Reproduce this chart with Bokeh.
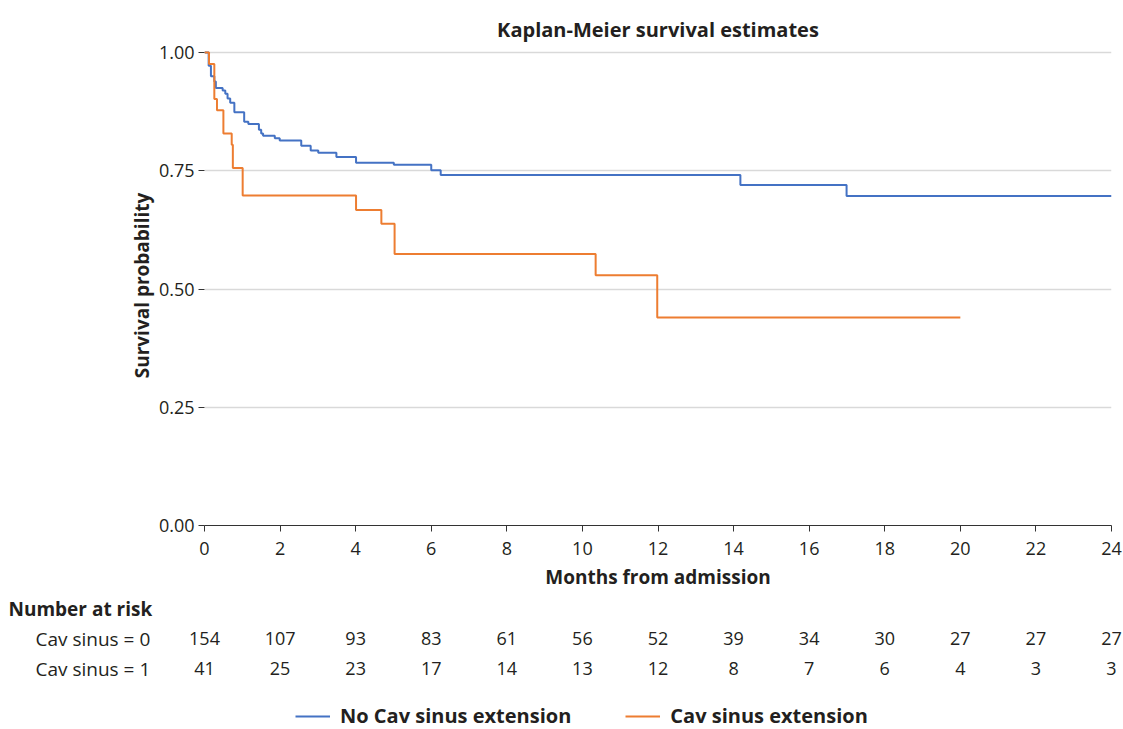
from bokeh.plotting import figure
from bokeh.models import (Range1d, FixedTicker, NumeralTickFormatter, ColumnDataSource,
                          Legend, LegendItem, Title)
from bokeh.layouts import column
from bokeh.core.properties import value
from bokeh.embed import file_html
from bokeh.resources import INLINE

# ---- data ----
months_no = [0, 0.11, 0.17, 0.26, 0.30, 0.48, 0.55, 0.61, 0.68, 0.79, 1.05, 1.16, 1.44, 1.50,
             1.55, 1.86, 1.99, 2.56, 2.81, 3.01, 3.49, 4.01, 5.01, 6.00, 6.25, 14.18, 16.99, 24.0]
surv_no = [1.0, 0.972, 0.950, 0.939, 0.925, 0.920, 0.913, 0.903, 0.894, 0.874, 0.854, 0.849,
           0.837, 0.829, 0.824, 0.819, 0.814, 0.803, 0.793, 0.788, 0.779, 0.767, 0.763, 0.751,
           0.741, 0.720, 0.697, 0.697]
months_cav = [0, 0.12, 0.26, 0.33, 0.50, 0.72, 0.75, 1.01, 4.01, 4.68, 5.03, 10.35, 11.98, 20.0]
surv_cav = [1.0, 0.976, 0.902, 0.878, 0.829, 0.805, 0.756, 0.698, 0.667, 0.638, 0.574, 0.529,
            0.440, 0.440]
risk_months = [0, 2, 4, 6, 8, 10, 12, 14, 16, 18, 20, 22, 24]
risk_no = [154, 107, 93, 83, 61, 56, 52, 39, 34, 30, 27, 27, 27]
risk_cav = [41, 25, 23, 17, 14, 13, 12, 8, 7, 6, 4, 3, 3]
y_ticks = [0, 0.25, 0.5, 0.75, 1.0]
series_names = ["No Cav sinus extension", "Cav sinus extension"]
row_names = ["Cav sinus = 0", "Cav sinus = 1"]
table_title = "Number at risk"

FONT = "Open Sans"
TXT = "#231f20"
BLUE = "#4472c4"
ORANGE = "#ed7d31"
REG = "18px"
BOLD = "19px"

W = 1123
LEFT, RIGHT = 204, 12
H1 = 594
H2 = 729 - H1

# ---------------- main plot ----------------
p = figure(width=W, height=H1, output_backend="svg", toolbar_location=None,
           x_range=Range1d(0, 24), y_range=Range1d(0, 1.015),
           min_border_left=LEFT, min_border_right=RIGHT, min_border_top=45,
           min_border_bottom=H1 - 525)
p.frame_align = False
p.outline_line_color = None

p.title = Title(text="Kaplan-Meier survival estimates", align="center",
                text_font=FONT, text_font_size="20px", text_font_style="bold",
                text_color=TXT, standoff=5)

p.xaxis.ticker = FixedTicker(ticks=risk_months)
p.yaxis.ticker = FixedTicker(ticks=y_ticks)
p.yaxis.formatter = NumeralTickFormatter(format="0.00")
for ax in (p.xaxis[0], p.yaxis[0]):
    ax.major_label_text_font = FONT
    ax.major_label_text_font_size = REG
    ax.major_label_text_color = TXT
    ax.axis_label_text_font = FONT
    ax.axis_label_text_font_size = BOLD
    ax.axis_label_text_font_style = "bold"
    ax.axis_label_text_color = TXT
    ax.minor_tick_line_color = None
    ax.major_tick_in = 0
    ax.major_tick_out = 6
    ax.axis_line_color = "#333333"
    ax.major_tick_line_color = "#333333"
    ax.axis_line_width = 1.2
p.xaxis.axis_label = "Months from admission"
p.yaxis.axis_label = "Survival probability"
p.xaxis.major_label_standoff = 10
p.xaxis.axis_label_standoff = 6
p.yaxis.major_label_standoff = 4
p.yaxis.axis_label_standoff = 1
p.yaxis.axis_line_color = None

p.xgrid.grid_line_color = None
p.ygrid.grid_line_color = "#d9d9d9"
p.ygrid.grid_line_width = 1.5

p.step(months_no, surv_no, mode="after", line_color=BLUE, line_width=2)
p.step(months_cav, surv_cav, mode="after", line_color=ORANGE, line_width=2)

# ---------------- risk table + legend ----------------
ppu = (W - LEFT - RIGHT) / 24.0
x0 = -LEFT / ppu
x1 = 24 + RIGHT / ppu
t = figure(width=W, height=H2, output_backend="svg", toolbar_location=None,
           x_range=Range1d(x0, x1), y_range=Range1d(0, H2),
           x_axis_location=None, y_axis_location=None,
           min_border=0, min_border_left=0, min_border_right=0,
           min_border_top=0, min_border_bottom=0)
t.frame_align = False
t.outline_line_color = None
t.xgrid.visible = False
t.ygrid.visible = False

top_page = H1
t.text(x=[x0 + 8 / ppu], y=[H2 - (608 - top_page)], text=[table_title], text_font=value(FONT),
       text_font_size=value(BOLD), text_font_style="bold", text_color=TXT,
       text_baseline="middle", text_align="left")
for i, (nm, vals) in enumerate(zip(row_names, [risk_no, risk_cav])):
    yy = H2 - (638 - top_page) - 30 * i
    t.text(x=[x0 + 35 / ppu], y=[yy], text=[nm], text_font=value(FONT),
           text_font_size=value(BOLD), text_color=TXT, text_baseline="middle",
           text_align="left")
    src = ColumnDataSource(dict(x=risk_months, y=[yy] * len(vals), s=[str(v) for v in vals]))
    t.text(x="x", y="y", text="s", source=src, text_font=value(FONT),
           text_font_size=value(REG), text_color=TXT, text_baseline="middle",
           text_align="center")

r_no = t.line([x0 - 10, x0 - 9], [-50, -50], line_color=BLUE, line_width=2)
r_cav = t.line([x0 - 10, x0 - 9], [-50, -50], line_color=ORANGE, line_width=2)
legend = Legend(items=[LegendItem(label=series_names[0], renderers=[r_no]),
                       LegendItem(label=series_names[1], renderers=[r_cav])],
                orientation="horizontal", location=(295, 0),
                label_text_font=FONT, label_text_font_size="20px", label_text_font_style="bold",
                label_text_color=TXT, glyph_width=35, glyph_height=20, label_standoff=10,
                spacing=54, padding=0, margin=0, border_line_alpha=0,
                background_fill_alpha=0)
t.add_layout(legend, "center")

layout = column(p, t, spacing=0)
open("out.html", "w").write(file_html(layout, INLINE))
